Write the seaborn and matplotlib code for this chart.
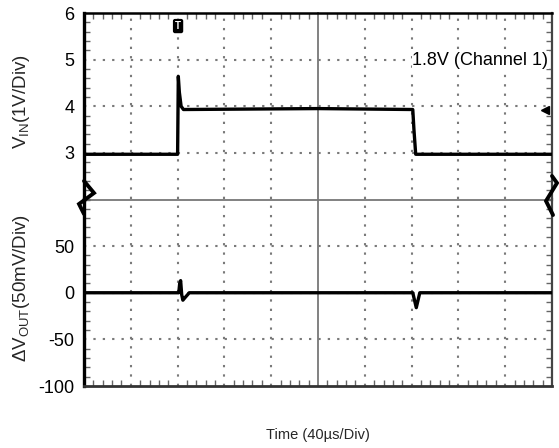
import matplotlib
matplotlib.use("Agg")
import matplotlib.pyplot as plt
from matplotlib.ticker import MultipleLocator, NullFormatter
from matplotlib.lines import Line2D
import seaborn as sns
import pandas as pd

# ---- data (read from the scope capture) ----
t_vin = [0, 80, 80.6, 81.5, 83, 85, 200, 281, 282, 283.5, 400]          # µs
vin = [2.97, 2.97, 4.64, 4.3, 4.0, 3.93, 3.95, 3.93, 3.5, 2.97, 2.97]     # V
t_vout = [0, 81, 81.8, 82.6, 83.5, 84.5, 86.5, 90, 281, 282.5, 284, 285.5, 287, 400]  # µs
vout = [0, 0, 10, 13, -2, -8, -5, 0, 0, -8, -16, -8, 0, 0]              # mV
vin_ticks = [3, 4, 5, 6]
vout_ticks = [-100, -50, 0, 50]
vin_label = r"V$_{\mathregular{IN}}$(1V/Div)"
vout_label = r"$\Delta$V$_{\mathregular{OUT}}$(50mV/Div)"
x_label = "Time (40µs/Div)"
note = "1.8V (Channel 1)"

sns.set_style("white")
plt.rcParams["font.family"] = ["Liberation Sans", "DejaVu Sans"]
plt.rcParams["mathtext.fontset"] = "custom"
plt.rcParams["mathtext.rm"] = "Liberation Sans"
plt.rcParams["mathtext.it"] = "Liberation Sans"
plt.rcParams["axes.unicode_minus"] = False

W, H = 559, 448
fig = plt.figure(figsize=(W / 100, H / 100), dpi=100)
L, R, T, B, M = 84, 552, 13, 386, 199.5
def fx(p): return p / W
def fy(p): return 1 - p / H

ax_top = fig.add_axes([fx(L), fy(M), fx(R - L), fy(T) - fy(M)])
ax_bot = fig.add_axes([fx(L), fy(B), fx(R - L), fy(M) - fy(B)])

df_vin = pd.DataFrame({"t": t_vin, "v": vin})
df_vout = pd.DataFrame({"t": t_vout, "v": vout})

grid_kw = dict(color="#7a7a7a", linewidth=1.5, linestyle=(0, (1.1, 3.4)))
for ax, lo, hi, ticks, minor in [(ax_top, 2, 6, vin_ticks, 0.2),
                                  (ax_bot, -100, 100, vout_ticks, 10)]:
    ax.set_xlim(0, 400)
    ax.set_ylim(lo, hi)
    ax.set_yticks(ticks)
    ax.yaxis.set_minor_locator(MultipleLocator(minor))
    ax.xaxis.set_major_locator(MultipleLocator(40))
    ax.xaxis.set_minor_locator(MultipleLocator(8))
    ax.xaxis.set_major_formatter(NullFormatter())
    for v in ax.get_xticks():
        if 0 < v < 400 and v != 200:
            ax.axvline(v, zorder=0, **grid_kw)
    for v in range(int(lo), int(hi) + 1, 1 if hi <= 6 else 50):
        if lo < v < hi:
            ax.axhline(v, zorder=0, **grid_kw)
    ax.tick_params(axis="y", which="major", length=0, pad=7, labelsize=13, labelcolor="black")
    ax.tick_params(axis="x", which="major", length=0)
    ax.tick_params(which="minor", direction="in", length=4, color="#666666", width=1,
                   top=True, right=True, left=True, bottom=True)

sns.lineplot(data=df_vin, x="t", y="v", ax=ax_top, color="black", linewidth=2.4,
             estimator=None, sort=False, zorder=3)
sns.lineplot(data=df_vout, x="t", y="v", ax=ax_bot, color="black", linewidth=2.4,
             estimator=None, sort=False, zorder=3)
ax_top.set_xlabel(""); ax_top.set_ylabel("")
ax_bot.set_xlabel(""); ax_bot.set_ylabel("")

ax_top.tick_params(which="minor", bottom=False)
ax_bot.tick_params(which="minor", top=False)
ax_top.spines["bottom"].set_visible(False)
ax_bot.spines["top"].set_visible(False)
for ax in (ax_top, ax_bot):
    ax.spines["left"].set_linewidth(2.4); ax.spines["left"].set_color("black")
    ax.spines["right"].set_linewidth(1.6); ax.spines["right"].set_color("#444444")
ax_top.spines["top"].set_linewidth(1.8); ax_top.spines["top"].set_color("black")
ax_bot.spines["bottom"].set_linewidth(2.0); ax_bot.spines["bottom"].set_color("#333333")

# center cross with graduations
ax_c = fig.add_axes([fx(L), fy(B), fx(R - L), fy(T) - fy(B)])
ax_c.patch.set_visible(False)
ax_c.set_xlim(0, 400)
ax_c.set_ylim(0, 8)
for s in ("top", "right"):
    ax_c.spines[s].set_visible(False)
ax_c.spines["left"].set_position(("data", 200))
ax_c.spines["bottom"].set_position(("data", 4))
for s in ("left", "bottom"):
    ax_c.spines[s].set_color("#777777")
    ax_c.spines[s].set_linewidth(1.3)
ax_c.xaxis.set_major_locator(MultipleLocator(40))
ax_c.xaxis.set_minor_locator(MultipleLocator(8))
ax_c.yaxis.set_major_locator(MultipleLocator(1))
ax_c.yaxis.set_minor_locator(MultipleLocator(0.2))
ax_c.xaxis.set_major_formatter(NullFormatter())
ax_c.yaxis.set_major_formatter(NullFormatter())
ax_c.tick_params(which="both", direction="inout", length=6, width=1.1, color="#777777")
ax_c.set_zorder(ax_top.get_zorder() - 0.5)
ax_top.patch.set_visible(False)
ax_bot.patch.set_visible(False)
fig.patch.set_facecolor("white")

# annotations
ax_top.text(397, 4.99, note, ha="right", va="center", fontsize=13, color="black",
            bbox=dict(facecolor="white", edgecolor="none", pad=0.5), zorder=4)
ax_top.text(80.4, 5.72, "T", ha="center", va="center", fontsize=7, fontweight="bold",
            color="white", bbox=dict(boxstyle="round,pad=0.15", facecolor="black",
                                     edgecolor="black"), zorder=5)
ax_top.plot([394], [3.92], marker="<", markersize=6, color="black", clip_on=False, zorder=5)

# break symbols
def zig(pts):
    xs = [fx(p[0]) for p in pts]
    ys = [fy(p[1]) for p in pts]
    fig.add_artist(Line2D(xs, ys, color="black", linewidth=2.8, solid_joinstyle="miter",
                          transform=fig.transFigure, zorder=10))
zig([(84, 181), (94, 193), (79, 204), (84, 214)])
zig([(552, 176), (557, 183), (546, 201), (553, 215)])

fig.text(fx(22), fy(102), vin_label, rotation=90, ha="center", va="center", fontsize=13.5)
fig.text(fx(22), fy(288), vout_label, rotation=90, ha="center", va="center", fontsize=13.5)
fig.text(fx(318), fy(435), x_label, ha="center", va="center", fontsize=10.5)

fig.savefig("out.png", dpi=100, facecolor="white")
